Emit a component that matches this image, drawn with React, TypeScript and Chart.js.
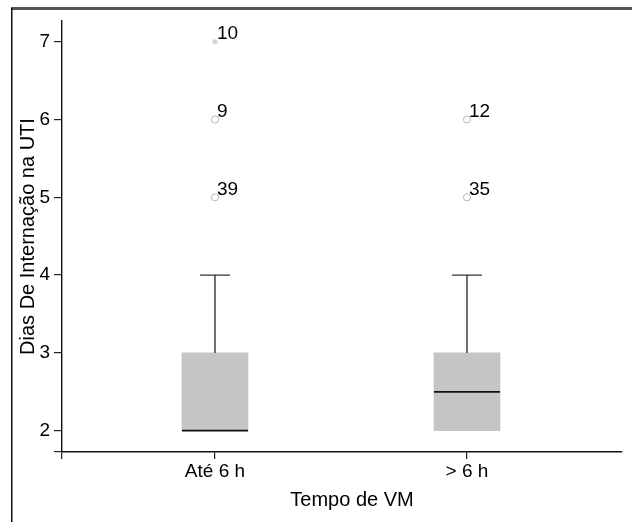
import React, { useEffect, useRef } from 'react';
import { Chart, registerables } from 'chart.js';

Chart.register(...registerables);

// ---- data ----
const categories = ['Até 6 h', '> 6 h'];
const q1Values = [2, 2];
const q3Values = [3, 3];
const medianValues = [2, 2.5];
const whiskerLow = [2, 2];
const whiskerHigh = [4, 4];
const outlierCategory = [1, 1, 2, 2];
const outlierValues = [5, 6, 5, 6];
const outlierIds = ['39', '9', '35', '12'];
const extremeCategory = [1];
const extremeValues = [7];
const extremeIds = ['10'];
const yTickValues = [2, 3, 4, 5, 6, 7];
const xTitle = 'Tempo de VM';
const yTitle = 'Dias De Internação na UTI';

const FONT = "'Liberation Sans', Arial, Helvetica, sans-serif";

const framePlugin = {
  id: 'frame',
  beforeDraw(chart: any) {
    const { ctx, width, height } = chart;
    ctx.save();
    ctx.fillStyle = '#ffffff';
    ctx.fillRect(0, 0, width, height);
    ctx.fillStyle = '#555555';
    ctx.fillRect(11, 7, width - 11, 3);
    ctx.fillStyle = '#111111';
    ctx.fillRect(11, 8, 1.5, height - 8);
    ctx.restore();
  },
};

const boxPlugin = {
  id: 'boxExtras',
  afterDatasetsDraw(chart: any) {
    const { ctx } = chart;
    const xs = chart.scales.x;
    const ys = chart.scales.y;
    const meta = chart.getDatasetMeta(0);
    const capHalf = 15;
    ctx.save();
    categories.forEach((_, i) => {
      const x = xs.getPixelForValue(i + 1);
      const bar = meta.data[i];
      const half = bar ? bar.width / 2 : 33;
      // whiskers
      ctx.strokeStyle = '#333333';
      ctx.lineWidth = 1.4;
      ctx.beginPath();
      if (whiskerHigh[i] > q3Values[i]) {
        ctx.moveTo(x, ys.getPixelForValue(q3Values[i]));
        ctx.lineTo(x, ys.getPixelForValue(whiskerHigh[i]));
        ctx.moveTo(x - capHalf, ys.getPixelForValue(whiskerHigh[i]));
        ctx.lineTo(x + capHalf, ys.getPixelForValue(whiskerHigh[i]));
      }
      if (whiskerLow[i] < q1Values[i]) {
        ctx.moveTo(x, ys.getPixelForValue(q1Values[i]));
        ctx.lineTo(x, ys.getPixelForValue(whiskerLow[i]));
        ctx.moveTo(x - capHalf, ys.getPixelForValue(whiskerLow[i]));
        ctx.lineTo(x + capHalf, ys.getPixelForValue(whiskerLow[i]));
      }
      ctx.stroke();
      // median
      ctx.strokeStyle = '#111111';
      ctx.lineWidth = 1.8;
      ctx.beginPath();
      const my = ys.getPixelForValue(medianValues[i]);
      ctx.moveTo(x - half, my);
      ctx.lineTo(x + half, my);
      ctx.stroke();
    });
    ctx.restore();
  },
};

const labelPlugin = {
  id: 'textExtras',
  afterDraw(chart: any) {
    const { ctx } = chart;
    const xs = chart.scales.x;
    const ys = chart.scales.y;
    ctx.save();
    ctx.fillStyle = '#000000';
    ctx.font = `19px ${FONT}`;
    ctx.textAlign = 'left';
    ctx.textBaseline = 'alphabetic';
    const put = (c: number, v: number, t: string) => {
      ctx.fillText(t, xs.getPixelForValue(c) + 2, ys.getPixelForValue(v) - 2.5);
    };
    outlierIds.forEach((t, i) => put(outlierCategory[i], outlierValues[i], t));
    extremeIds.forEach((t, i) => put(extremeCategory[i], extremeValues[i], t));
    // x axis title
    ctx.font = `20px ${FONT}`;
    ctx.textAlign = 'center';
    ctx.fillText(xTitle, (xs.left + xs.right) / 2 + 10, 506);
    ctx.restore();
  },
};

export default function App() {
  const ref = useRef<HTMLCanvasElement>(null);

  useEffect(() => {
    if (!ref.current) return;
    const chart = new Chart(ref.current, {
      type: 'bar',
      data: {
        datasets: [
          {
            type: 'bar',
            data: categories.map((_, i) => ({ x: i + 1, y: [q1Values[i], q3Values[i]] })) as any,
            backgroundColor: '#c5c5c5',
            borderWidth: 0,
            barThickness: 66,
          } as any,
          {
            type: 'scatter',
            data: outlierValues.map((v, i) => ({ x: outlierCategory[i], y: v })),
            pointStyle: 'circle',
            pointRadius: 3.6,
            pointBorderColor: '#b8b8b8',
            pointBackgroundColor: '#ffffff',
            pointBorderWidth: 1,
          } as any,
          {
            type: 'scatter',
            data: extremeValues.map((v, i) => ({ x: extremeCategory[i], y: v })),
            pointStyle: 'star',
            pointRadius: 3.2,
            pointBorderColor: '#c8c8c8',
            pointBorderWidth: 1,
          } as any,
        ],
      },
      options: {
        animation: false,
        responsive: false,
        devicePixelRatio: 1,
        layout: { padding: { top: 21, right: 10, left: 0, bottom: 0 } },
        plugins: { legend: { display: false }, tooltip: { enabled: false } },
        scales: {
          x: {
            type: 'linear',
            min: 0.393,
            max: 2.615,
            offset: false,
            afterBuildTicks: (s: any) => {
              s.ticks = [{ value: s.min }, ...categories.map((_, i) => ({ value: i + 1 }))];
            },
            afterFit: (s: any) => {
              s.height = 70;
            },
            ticks: {
              callback: (v: any) => {
                const i = Math.round(v) - 1;
                return Math.abs(v - (i + 1)) < 1e-6 && categories[i] ? categories[i] : '';
              },
              font: { family: FONT, size: 19 },
              color: '#000000',
              padding: 1,
              maxRotation: 0,
              autoSkip: false,
            },
            grid: { drawOnChartArea: false, tickLength: 7, color: '#222222', lineWidth: 1.2, offset: false },
            border: { display: true, color: '#111111', width: 1.4 },
            title: { display: false },
          } as any,
          y: {
            type: 'linear',
            min: 1.726,
            max: 7.266,
            afterBuildTicks: (s: any) => {
              s.ticks = [{ value: s.min }, ...yTickValues.map((v) => ({ value: v }))];
            },
            afterFit: (s: any) => {
              s.width = 62;
            },
            ticks: {
              callback: (v: any) => (yTickValues.includes(v) ? String(v) : ''),
              font: { family: FONT, size: 19 },
              color: '#000000',
              padding: 4,
              autoSkip: false,
            },
            grid: { drawOnChartArea: false, tickLength: 8, color: '#222222', lineWidth: 1.2 },
            border: { display: true, color: '#111111', width: 1.4 },
            title: {
              display: true,
              text: yTitle,
              font: { family: FONT, size: 20 },
              color: '#000000',
              padding: { top: 16, bottom: 0 },
            },
          } as any,
        },
      },
      plugins: [framePlugin, boxPlugin, labelPlugin],
    });
    return () => chart.destroy();
  }, []);

  return (
    <div
      style={{
        position: 'absolute',
        left: 0,
        top: 0,
        width: 632,
        height: 522,
        overflow: 'hidden',
        background: '#ffffff',
      }}
    >
      <canvas ref={ref} width={632} height={522} style={{ display: 'block', width: 632, height: 522 }} />
    </div>
  );
}
